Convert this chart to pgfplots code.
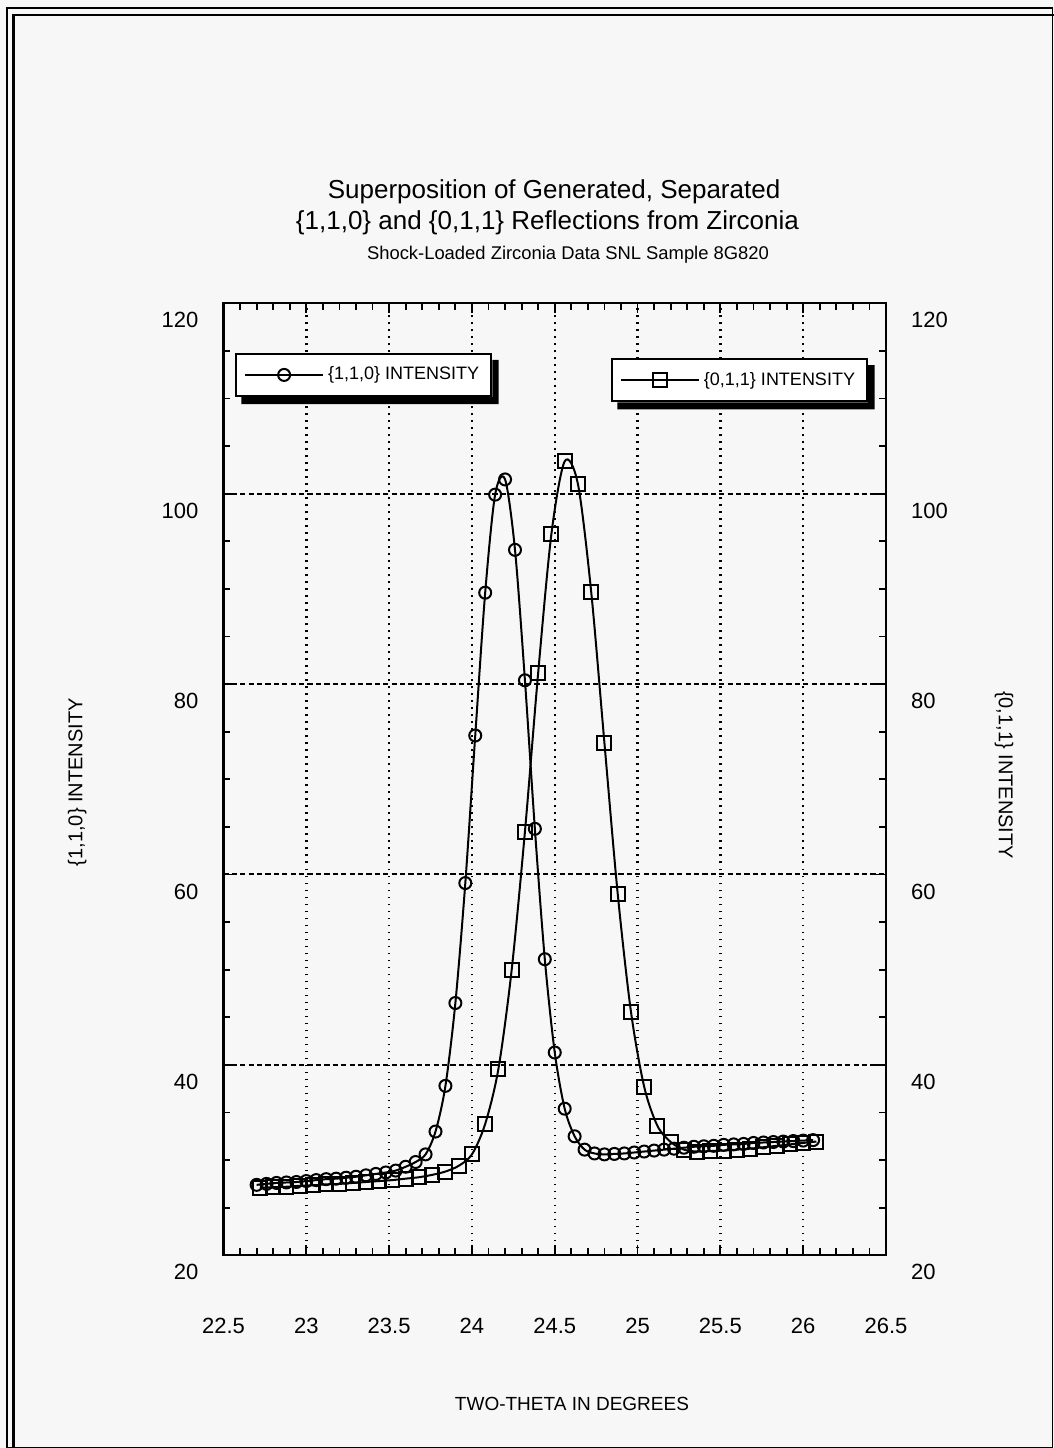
\documentclass[border=0pt]{standalone}
\usepackage{fontspec}
\setmainfont{Liberation Sans}
\usepackage{pgfplots}
\pgfplotsset{compat=1.18}
\definecolor{bg}{RGB}{247,247,247}

\pgfplotsset{
  zbase/.style={
    at={(111.75pt,96.35pt)}, anchor=south west,
    scale only axis, width=331.25pt, height=476pt,
    xmin=22.5, xmax=26.5, ymin=20, ymax=120,
    xtick={22.5,23,...,26.5}, ytick={20,40,...,120},
    minor x tick num=4, minor y tick num=3,
    tick align=inside, major tick length=5pt, minor tick length=3.5pt,
    every tick/.style={black, line width=0.9pt},
    axis line style={line width=1.1pt},
    /pgf/number format/assume math mode=true,
    tick label style={font=\fontsize{11}{12}\selectfont},
    xticklabel shift=28pt,
    yticklabel shift=9pt,
    yticklabel style={yshift=-8.5pt},
    clip=false,
    legend cell align=left,
    legend image code/.code={\draw[mark repeat=2,mark phase=2] plot coordinates {(0pt,0pt) (19.5pt,0pt) (39pt,0pt)};},
  },
  zlegend/.style={
    draw=black, line width=1.1pt, fill=white,
    inner xsep=4pt, inner ysep=4.5pt,
    font=\fontsize{9}{10}\selectfont,
  },
}

\newcommand{\lshadow}[1]{%
  \fill[black] ([yshift=-3.5pt]#1.north east) -- ([xshift=3.2pt,yshift=-3.5pt]#1.north east)
    -- ([xshift=3.2pt,yshift=-3.5pt]#1.south east) -- ([xshift=3.2pt,yshift=-3.5pt]#1.south west)
    -- ([xshift=3.2pt]#1.south west) -- (#1.south east) -- cycle;}

\begin{document}
\begin{tikzpicture}
\useasboundingbox (0,0) rectangle (527pt,724pt);
\fill[bg] (0,0) rectangle (527pt,724pt);
\draw[line width=0.6pt] (3.5pt,0.4pt) rectangle (526.2pt,720pt);
\draw[line width=1.3pt] (6.6pt,-1pt) -- (6.6pt,716.4pt) -- (528pt,716.4pt);

\begin{axis}[zbase,
  xtick pos=both, ytick pos=left,
  grid=major,
  x grid style={black, line width=1.2pt, dash pattern=on 0.9pt off 2.6pt},
  y grid style={black, line width=1pt, dash pattern=on 2.6pt off 1.6pt},
  xlabel={TWO-THETA IN DEGREES},
  xlabel style={at={(axis description cs:0.526,-0.163)}, anchor=base, font=\fontsize{9.5}{11}\selectfont},
  ylabel={\{1,1,0\} INTENSITY},
  ylabel style={at={(axis description cs:-0.221,0.497)}, anchor=center, font=\fontsize{10}{11}\selectfont},
  legend style={zlegend, name=legA, at={(axis description cs:0.0174,0.948)}, anchor=north west},
]
\addplot[black, line width=1pt, smooth, mark=o, mark size=3pt, mark options={solid, line width=1pt}] coordinates {
(22.70,27.4) (22.76,27.5) (22.82,27.6) (22.88,27.65) (22.94,27.7) (23.00,27.8)
(23.06,27.9) (23.12,28.0) (23.18,28.05) (23.24,28.15) (23.30,28.25) (23.36,28.4)
(23.42,28.55) (23.48,28.7) (23.54,28.9) (23.60,29.3) (23.66,29.8) (23.72,30.6)
(23.78,33.0) (23.84,37.8) (23.90,46.5) (23.96,59.1) (24.02,74.6) (24.08,89.6)
(24.14,99.9) (24.20,101.5) (24.26,94.1) (24.32,80.4) (24.38,64.8) (24.44,51.1)
(24.50,41.3) (24.56,35.4) (24.62,32.5) (24.68,31.1) (24.74,30.7) (24.80,30.6)
(24.86,30.65) (24.92,30.7) (24.98,30.8) (25.04,30.9) (25.10,31.0) (25.16,31.1)
(25.22,31.2) (25.28,31.3) (25.34,31.4) (25.40,31.45) (25.46,31.5) (25.52,31.6)
(25.58,31.65) (25.64,31.7) (25.70,31.8) (25.76,31.85) (25.82,31.9) (25.88,31.95)
(25.94,32.0) (26.00,32.05) (26.06,32.1)
};
\addlegendentry{\{1,1,0\} INTENSITY}
\node[font=\fontsize{13}{15}\selectfont, anchor=base] at (axis description cs:0.499,1.1106) {Superposition of Generated, Separated};
\node[font=\fontsize{13}{15}\selectfont, anchor=base] at (axis description cs:0.489,1.078) {\{1,1,0\} and \{0,1,1\} Reflections from Zirconia};
\node[font=\fontsize{9.2}{10}\selectfont, anchor=base] at (axis description cs:0.52,1.0455) {Shock-Loaded Zirconia Data SNL Sample 8G820};
\end{axis}
\lshadow{legA}

\begin{axis}[zbase,
  axis x line=none, axis y line*=right,
  ytick pos=right,
  ylabel={\{0,1,1\} INTENSITY},
  ylabel style={at={(axis description cs:1.178,0.5045)}, anchor=center, rotate=180, font=\fontsize{10}{11}\selectfont},
  legend style={zlegend, name=legB, at={(axis description cs:0.973,0.9425)}, anchor=north east},
]
\addplot[black, line width=1pt, smooth, mark=square, mark size=3.5pt, mark options={solid, line width=1pt}] coordinates {
(22.72,27.1) (22.80,27.15) (22.88,27.2) (22.96,27.3) (23.04,27.35) (23.12,27.45)
(23.20,27.5) (23.28,27.6) (23.36,27.7) (23.44,27.8) (23.52,27.9) (23.60,28.05)
(23.68,28.2) (23.76,28.45) (23.84,28.8) (23.92,29.4) (24.00,30.6) (24.08,33.8)
(24.16,39.6) (24.24,50.0) (24.32,64.5) (24.40,81.2) (24.48,95.8) (24.56,103.4)
(24.64,101.0) (24.72,89.7) (24.80,73.8) (24.88,58.0) (24.96,45.6) (25.04,37.7)
(25.12,33.6) (25.20,31.9) (25.28,31.1) (25.36,30.9) (25.44,30.95) (25.52,31.0)
(25.60,31.1) (25.68,31.2) (25.76,31.35) (25.84,31.5) (25.92,31.65) (26.00,31.8)
(26.08,31.95)
};
\addlegendentry{\{0,1,1\} INTENSITY}
\end{axis}
\lshadow{legB}
\end{tikzpicture}
\end{document}
